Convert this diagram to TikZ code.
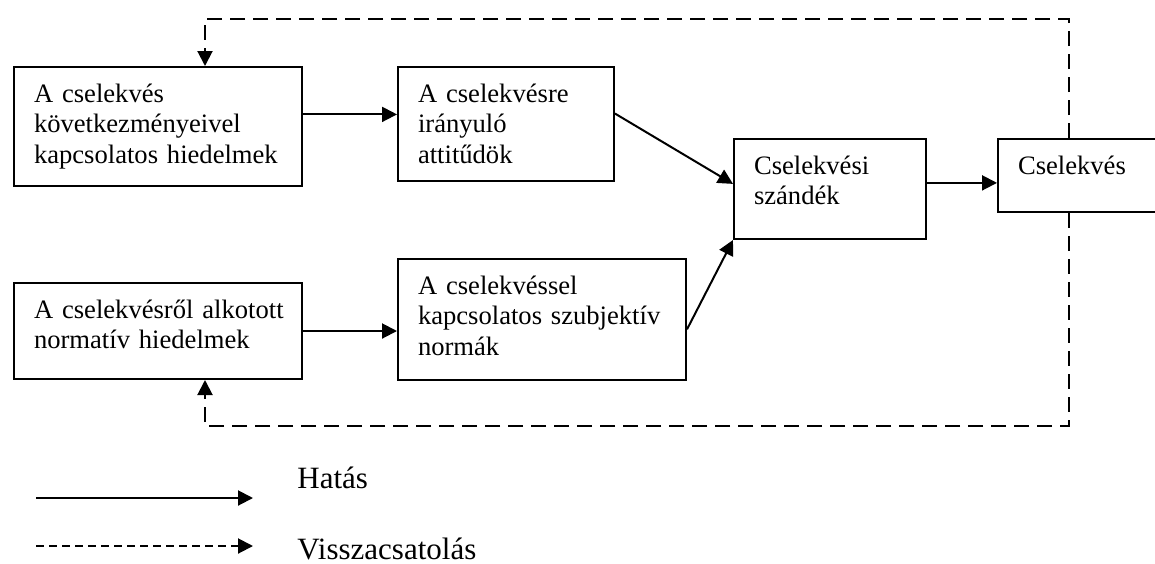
\documentclass[tikz,border=0pt]{standalone}
\usepackage{fontspec}
\setmainfont{Liberation Serif}
\usetikzlibrary{calc, arrows.meta}

\begin{document}
\begin{tikzpicture}[x=0.5pt, y=-0.5pt,
    box/.style={draw, line width=1pt, anchor=north west, align=left,
      inner xsep=10pt, inner ysep=0pt, text height=17.5pt,
      font=\fontsize{13.3}{15.4}\selectfont},
    hatas/.style={line width=1pt, -{Triangle[length=7.5pt, width=7.5pt]}},
    vissza/.style={hatas, dash pattern=on 7.5pt off 4pt},
    jelmagy/.style={anchor=base west, inner sep=0pt,
      font=\fontsize{15.5}{18}\selectfont}]
                \useasboundingbox (0,0) rectangle (1155,563);
                \node[box, text width=124pt, text depth=42pt] (kov) at (13,66)
                    {A cselekvés\\következményeivel\\\mbox{kapcsolatos hiedelmek}};
                \node[box, text width=88pt, text depth=39.5pt] (att) at (397,66)
                    {A cselekvésre\\irányuló\\attitűdök};
                \node[box, text width=76pt, text depth=32.5pt] (szand) at (733,138)
                    {Cselekvési\\szándék};
                \node[box, text width=60.5pt, text depth=19pt] (cselek) at (997,138)
                    {Cselekvés};
                \node[box, text width=124pt, text depth=30.5pt] (norm) at (13,282)
                    {\mbox{A cselekvésről alkotott}\\normatív hiedelmek};
                \node[box, text width=124pt, text depth=43pt] (szubj) at (397,258)
                    {A cselekvéssel\\\mbox{kapcsolatos szubjektív}\\normák};
                % hatas
                \coordinate (k1) at ($(kov.north east)!0.4!(kov.south east)$);
                \coordinate (a1) at ($(att.north east)!0.41!(att.south east)$);
                \coordinate (s1) at ($(szand.north west)!0.45!(szand.south west)$);
                \coordinate (s2) at ($(szand.north east)!0.44!(szand.south east)$);
                \coordinate (n1) at ($(szubj.north east)!0.58!(szubj.south east)$);
                \draw[hatas] (k1) -- (k1 -| att.west);
                \draw[hatas] (a1) -- (s1);
                \draw[hatas] (norm.east) -- (norm.east -| szubj.west);
                \draw[hatas] (n1) -- (szand.south west);
                \draw[hatas] (s2) -- (s2 -| cselek.west);
                % visszacsatolas
                \coordinate (jf) at (1069,19);
                \coordinate (bf) at (205,19);
                \coordinate (ja) at (1069,426);
                \coordinate (ba) at (205,426);
                \draw[vissza] (cselek.north -| jf) -- (jf) -- (bf) -- (kov.north -| bf);
                \draw[vissza] (cselek.south -| ja) -- (ja) -- (ba) -- (norm.south -| ba);
                % jelmagyarazat
                \coordinate (h1) at (36,498);
                \coordinate (h2) at (253,498);
                \coordinate (v1) at (36,546);
                \coordinate (v2) at (253,546);
                \draw[hatas] (h1) -- (h2);
                \draw[hatas, dash pattern=on 4pt off 2.5pt] (v1) -- (v2);
                \node[jelmagy] (hat) at (297,488) {Hatás};
                \node[jelmagy] (vis) at (297,559) {Visszacsatolás};
            \end{tikzpicture}
\end{document}
